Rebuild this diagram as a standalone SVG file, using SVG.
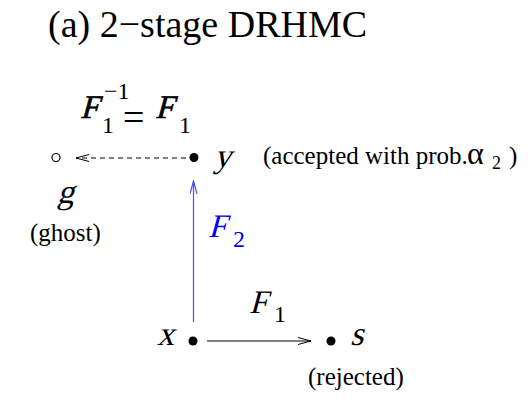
<svg xmlns="http://www.w3.org/2000/svg" width="532" height="408" viewBox="0 0 532 408">
<style>
text{font-family:"Liberation Serif","Times New Roman",serif;fill:#000}
.m{font-size:34px}
.F{font-size:33px}
.sub{font-size:24px}
.ann{font-size:25px}
.blue{fill:#0000ff}
.dot{fill:#000}
</style>
<defs>
<marker id="openK" viewBox="0 0 14 8" refX="13" refY="4" markerWidth="14" markerHeight="8" markerUnits="userSpaceOnUse" orient="auto">
<path d="M0,0.5 L13,4 L0,7.5" fill="none" stroke="#000" stroke-width="1"/>
</marker>
<marker id="openB" viewBox="0 0 14 8" refX="13" refY="4" markerWidth="14" markerHeight="8" markerUnits="userSpaceOnUse" orient="auto">
<path d="M0,0.5 L13,4 L0,7.5" fill="none" stroke="#4d4dff" stroke-width="1.2"/>
</marker>
</defs>
<text x="48" y="37" style="font-size:38px">(a) 2−stage DRHMC</text>
<g id="connectors">
<line x1="186" y1="158" x2="76" y2="158" stroke="#000" stroke-width="1" stroke-dasharray="5,4" marker-end="url(#openK)"/>
<line x1="193.5" y1="322" x2="193.5" y2="181" stroke="#4d4dff" stroke-width="1.2" marker-end="url(#openB)"/>
<line x1="207" y1="341" x2="311" y2="341" stroke="#000" stroke-width="1" marker-end="url(#openK)"/>
<g id="label-finv">
<text transform="translate(80 118) skewX(-15)" class="F" style="stroke:#000;stroke-width:0.6">F</text>
<text x="102" y="133" class="sub">1</text>
<text x="104" y="99" style="font-size:24px">−1</text>
<text x="123" y="130" style="font-size:38px">=</text>
<text transform="translate(155 118) skewX(-15)" class="F" style="stroke:#000;stroke-width:0.6">F</text>
<text x="179" y="133" class="sub">1</text>
</g>
<g id="label-f2">
<text transform="translate(208 237) skewX(-15)" class="F blue">F</text>
<text x="233" y="247" class="sub blue">2</text>
</g>
<g id="label-f1">
<text transform="translate(249 313) skewX(-15)" class="F">F</text>
<text x="274" y="322" class="sub">1</text>
</g>
</g>
<g id="node-g">
<circle cx="56" cy="157.5" r="4" fill="#fff" stroke="#000" stroke-width="1.2"/>
<text transform="translate(57 203) skewX(-15)" class="m">g</text>
<text x="30" y="241" class="ann">(ghost)</text>
</g>
<g id="node-y">
<circle cx="194" cy="157.5" r="4.5" class="dot"/>
<text transform="translate(214 167) skewX(-15)" class="m">y</text>
<text x="263" y="164" class="ann">(accepted with prob.</text>
<text x="467" y="164" style="font-size:32px">α</text>
<text x="492" y="169" style="font-size:18px">2</text>
<text x="509" y="164" class="ann">)</text>
</g>
<g id="node-x">
<circle cx="193" cy="341" r="4.5" class="dot"/>
<text transform="translate(157 345) skewX(-15)" class="m">x</text>
</g>
<g id="node-s">
<circle cx="331" cy="341" r="4.5" class="dot"/>
<text transform="translate(350 345) skewX(-15)" class="m">s</text>
<text x="308" y="385" class="ann">(rejected)</text>
</g>
</svg>
